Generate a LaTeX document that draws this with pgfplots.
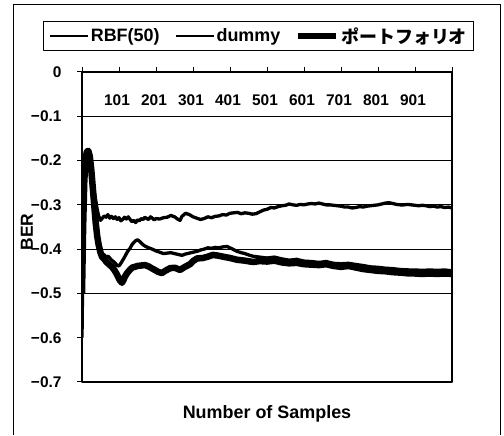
\documentclass[border=0pt]{standalone}
\usepackage{pgfplots}
\pgfplotsset{compat=1.18}
\usepackage{fontspec}
\setmainfont{Liberation Sans}
\newfontfamily\cjk{Noto Sans CJK JP}
\pgfplotstableread{
x y
0 -0.46
3 -0.3
6 -0.22
9 -0.19
13 -0.178
17 -0.18
21 -0.195
25 -0.215
29 -0.245
33 -0.27
37 -0.29
41 -0.31
45 -0.325
50 -0.335
55 -0.33
60 -0.325
65 -0.328
70 -0.322
75 -0.33
80 -0.326
85 -0.331
90 -0.327
95 -0.333
100 -0.329
105 -0.336
110 -0.333
115 -0.328
120 -0.332
125 -0.327
130 -0.333
135 -0.338
140 -0.335
145 -0.34
150 -0.334
155 -0.336
160 -0.331
165 -0.333
170 -0.328
175 -0.331
180 -0.333
185 -0.327
190 -0.33
195 -0.334
200 -0.331
210 -0.332
220 -0.329
230 -0.328
240 -0.324
250 -0.327
260 -0.333
265 -0.335
270 -0.326
280 -0.319
290 -0.322
300 -0.327
310 -0.33
320 -0.333
330 -0.331
340 -0.327
350 -0.329
360 -0.326
370 -0.325
380 -0.322
390 -0.323
400 -0.319
410 -0.318
420 -0.317
430 -0.32
440 -0.318
450 -0.319
460 -0.321
470 -0.32
480 -0.316
490 -0.312
500 -0.31
510 -0.306
520 -0.307
530 -0.304
540 -0.302
550 -0.301
560 -0.298
570 -0.3
580 -0.301
590 -0.299
600 -0.3
610 -0.298
620 -0.297
630 -0.298
640 -0.296
650 -0.298
660 -0.3
670 -0.3
680 -0.301
690 -0.302
700 -0.303
710 -0.305
720 -0.305
730 -0.307
740 -0.306
750 -0.304
760 -0.305
770 -0.303
780 -0.302
790 -0.301
800 -0.3
810 -0.298
820 -0.296
830 -0.295
840 -0.297
850 -0.299
860 -0.3
870 -0.3
880 -0.299
890 -0.3
900 -0.301
910 -0.302
920 -0.301
930 -0.302
940 -0.304
950 -0.303
960 -0.305
970 -0.304
980 -0.306
990 -0.305
1000 -0.307
}\rbf
\pgfplotstableread{
x y
0 -0.6
2 -0.45
4 -0.32
7 -0.22
10 -0.185
14 -0.176
18 -0.182
22 -0.2
26 -0.23
30 -0.27
34 -0.31
38 -0.35
42 -0.375
46 -0.395
50 -0.405
55 -0.41
60 -0.413
65 -0.418
70 -0.416
75 -0.42
80 -0.425
85 -0.428
90 -0.432
95 -0.437
100 -0.438
105 -0.432
110 -0.425
115 -0.418
120 -0.41
125 -0.403
130 -0.398
135 -0.39
140 -0.385
145 -0.381
150 -0.379
155 -0.382
160 -0.386
165 -0.39
170 -0.393
175 -0.395
180 -0.397
190 -0.4
200 -0.404
210 -0.407
220 -0.41
230 -0.409
240 -0.408
250 -0.41
260 -0.412
270 -0.414
280 -0.411
290 -0.409
300 -0.407
311 -0.405
320 -0.402
330 -0.4
340 -0.397
350 -0.398
360 -0.396
370 -0.397
380 -0.395
392 -0.394
405 -0.399
419 -0.405
430 -0.408
440 -0.41
450 -0.413
462 -0.416
480 -0.418
500 -0.42
520 -0.418
540 -0.422
560 -0.425
580 -0.423
600 -0.427
620 -0.428
640 -0.43
660 -0.428
680 -0.432
700 -0.433
720 -0.432
743 -0.435
760 -0.437
780 -0.44
800 -0.441
820 -0.443
840 -0.444
860 -0.446
886 -0.447
900 -0.447
920 -0.448
940 -0.447
960 -0.448
980 -0.447
1000 -0.449
}\dummy
\pgfplotstableread{
x y
0 -0.5
3 -0.35
6 -0.25
9 -0.2
13 -0.18
17 -0.178
21 -0.19
25 -0.22
29 -0.26
33 -0.3
37 -0.34
41 -0.37
45 -0.39
50 -0.408
54 -0.417
60 -0.422
65 -0.428
70 -0.432
75 -0.436
81 -0.44
88 -0.448
95 -0.458
102 -0.47
108 -0.476
112 -0.47
116 -0.462
122 -0.454
130 -0.446
137 -0.441
143 -0.44
150 -0.438
160 -0.437
170 -0.436
180 -0.439
190 -0.444
197 -0.447
205 -0.451
216 -0.454
225 -0.449
238 -0.443
251 -0.442
265 -0.447
278 -0.44
292 -0.434
300 -0.427
311 -0.421
327 -0.42
340 -0.417
354 -0.413
370 -0.415
381 -0.417
400 -0.42
419 -0.424
440 -0.426
462 -0.429
480 -0.427
500 -0.428
520 -0.426
540 -0.43
560 -0.432
580 -0.431
600 -0.434
620 -0.435
640 -0.436
660 -0.434
680 -0.438
700 -0.44
720 -0.438
743 -0.442
760 -0.445
780 -0.447
800 -0.449
820 -0.45
840 -0.452
860 -0.453
886 -0.455
900 -0.455
920 -0.456
940 -0.455
960 -0.456
980 -0.455
1000 -0.456
}\portfolio
\begin{document}
\begin{tikzpicture}[x=1bp,y=1bp]
\path (0,0) rectangle (504,435);
\draw[line width=1bp] (13,0) -- (13,430) -- (500,430) -- (500,0);
\begin{axis}[
  at={(82bp,53bp)}, anchor=south west,
  scale only axis, width=370bp, height=310bp,
  xmin=0, xmax=1000, ymin=-0.7, ymax=0,
  axis line style={line width=1.2bp},
  xtick={0,100,...,1000},
  xticklabels={,101,201,301,401,501,601,701,801,901,},
  xtick pos=upper, xticklabel pos=upper,
  x tick label style={anchor=north, yshift=-24bp, xshift=-2bp, font=\fontsize{15.5}{16}\selectfont\bfseries},
  x tick style={line width=1bp, black},
  xtick align=outside,
  major tick length=5bp,
  ytick={-0.7,-0.6,-0.5,-0.4,-0.3,-0.2,-0.1,0},
  yticklabels={−0.7,−0.6,−0.5,−0.4,−0.3,−0.2,−0.1,0},
  ytick pos=left, ytick align=outside,
  y tick style={line width=1bp, black},
  y tick label style={font=\fontsize{15.5}{16}\selectfont\bfseries, xshift=-12bp},
  extra y ticks={-0.1,-0.2,-0.3,-0.4,-0.5},
  extra y tick labels={},
  extra y tick style={grid=major, major tick length=0pt},
  grid style={line width=1bp, black},
  xlabel={Number of Samples},
  xlabel style={at={(axis description cs:0.5,-0.103)}, anchor=center, font=\fontsize{18}{20}\selectfont\bfseries},
  ylabel={BER},
  ylabel style={at={(axis description cs:-0.149,0.484)}, anchor=center, rotate=0, font=\fontsize{17.5}{19}\selectfont\bfseries},
  legend columns=3,
  legend style={at={(axis description cs:0.478,1.1645)}, anchor=north, draw=black, line width=1bp,
    font=\fontsize{18}{20}\selectfont\bfseries, inner xsep=5bp, inner ysep=4bp,
    /tikz/every even column/.append style={column sep=13bp}},
  legend image code/.code={\draw[#1] (0bp,0bp) -- (38bp,0bp);},
  line join=round,
]
\addplot[black, line width=3.3bp, forget plot] table[x=x,y=y] {\rbf};
\addplot[black, line width=3.3bp, forget plot] table[x=x,y=y] {\dummy};
\addplot[black, line width=6.5bp, forget plot] table[x=x,y=y] {\portfolio};
\addlegendimage{black, line width=2bp}
\addlegendentry{RBF(50)}
\addlegendimage{black, line width=2bp}
\addlegendentry{dummy}
\addlegendimage{black, line width=6bp}
\addlegendentry{{\cjk ポートフォリオ}}
\end{axis}
\end{tikzpicture}
\end{document}
